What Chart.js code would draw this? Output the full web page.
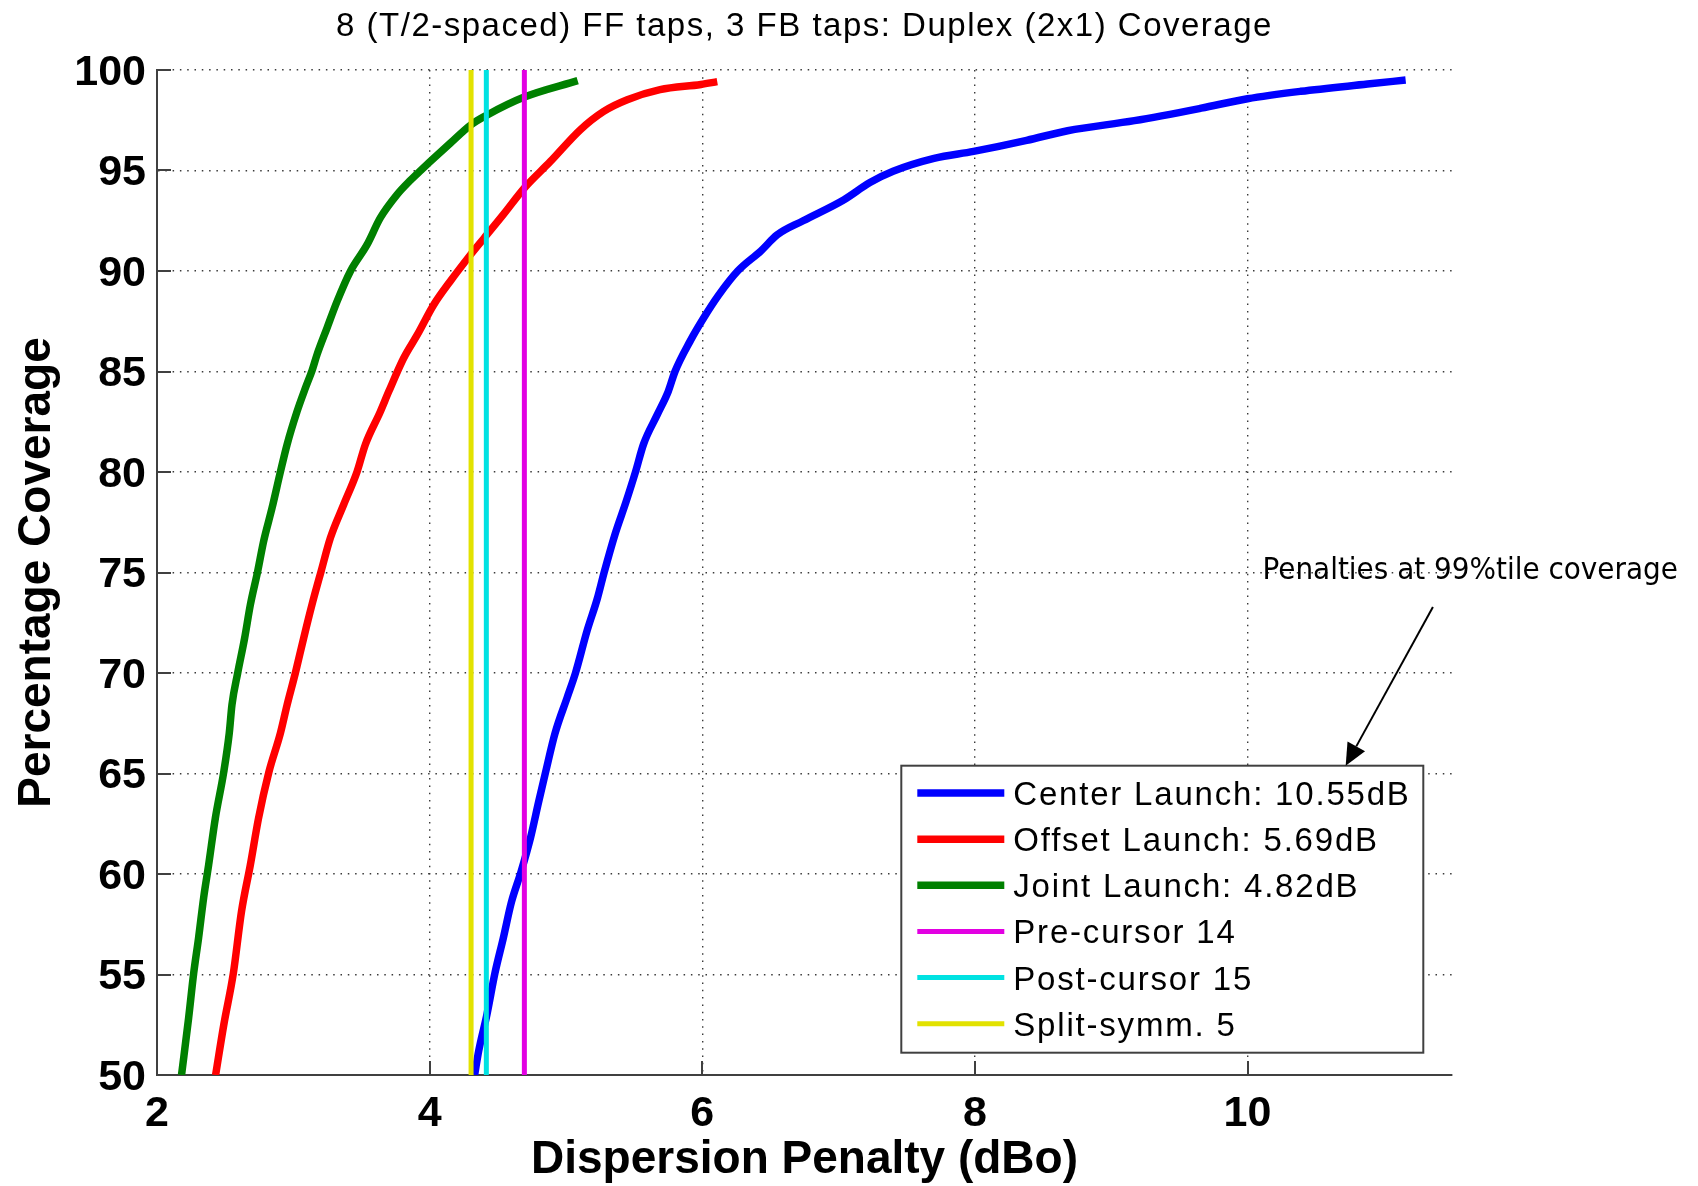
<!DOCTYPE html>
<html>
<head>
<meta charset="utf-8">
<title>Duplex (2x1) Coverage</title>
<script src="https://cdn.jsdelivr.net/npm/chart.js@4.4.1/dist/chart.umd.min.js"></script>
<style>
  html, body { margin: 0; padding: 0; background: #fff; }
  #chart { display: block; }
</style>
</head>
<body>
<canvas id="chart" width="1698" height="1186"></canvas>
<script>
// values (x = penalty in dBo, y = % coverage)
var centerX = [4.33, 4.36, 4.42, 4.48, 4.54, 4.6, 4.67, 4.74, 4.8, 4.85, 4.92, 5.01, 5.07, 5.155, 5.23, 5.28, 5.36, 5.44, 5.51, 5.57, 5.67, 5.75, 5.8, 5.91, 6.01, 6.12, 6.26, 6.43, 6.55, 6.74, 7.04, 7.23, 7.4, 7.7, 7.99, 8.38, 8.68, 9.17, 9.66, 10.0, 10.39, 10.88, 11.16];
var centerY = [50.0, 51.2, 53.0, 55.1, 56.8, 58.6, 60.1, 61.8, 63.6, 65.05, 67.0, 68.8, 70.0, 72.1, 73.7, 75.0, 76.9, 78.5, 80.0, 81.4, 82.85, 84.0, 85.0, 86.5, 87.66, 88.8, 90.0, 91.0, 91.8, 92.5, 93.55, 94.4, 94.96, 95.6, 95.95, 96.5, 96.98, 97.48, 98.1, 98.57, 98.94, 99.3, 99.5];

var offsetX = [2.43, 2.49, 2.56, 2.62, 2.685, 2.745, 2.82, 2.905, 2.954, 3.015, 3.076, 3.137, 3.203, 3.272, 3.369, 3.467, 3.528, 3.638, 3.7, 3.81, 3.91, 4.03, 4.15, 4.3, 4.4, 4.54, 4.695, 4.886, 5.106, 5.277, 5.45, 5.69, 5.99, 6.11];
var offsetY = [50.0, 52.5, 55.06, 58.14, 60.46, 62.78, 65.05, 67.0, 68.4, 70.0, 71.74, 73.4, 75.04, 76.72, 78.37, 80.0, 81.36, 83.0, 84.0, 85.67, 86.83, 88.32, 89.48, 90.81, 91.64, 92.8, 94.13, 95.45, 97.03, 97.94, 98.52, 99.02, 99.28, 99.42];

var jointX = [2.18, 2.232, 2.269, 2.305, 2.342, 2.379, 2.428, 2.489, 2.53, 2.55, 2.592, 2.643, 2.685, 2.738, 2.782, 2.844, 2.905, 2.954, 3.027, 3.09, 3.137, 3.174, 3.247, 3.321, 3.418, 3.541, 3.638, 3.761, 3.86, 3.94, 4.0, 4.15, 4.304, 4.416, 4.69, 5.086];
var jointY = [50.0, 52.84, 55.06, 56.82, 58.81, 60.46, 62.78, 65.05, 67.0, 68.42, 70.0, 71.74, 73.4, 75.04, 76.55, 78.21, 80.0, 81.36, 83.0, 84.2, 85.04, 85.84, 87.16, 88.49, 89.98, 91.31, 92.64, 93.8, 94.52, 95.04, 95.42, 96.35, 97.28, 97.74, 98.64, 99.47];

// penalties of the three tap splits (vertical markers)
var preCursorX = 4.695;
var postCursorX = 4.416;
var splitSymmX = 4.304;

var seriesLabels = ["Center Launch: 10.55dB", "Offset Launch: 5.69dB", "Joint Launch: 4.82dB",
                    "Pre-cursor 14", "Post-cursor 15", "Split-symm. 5"];
var seriesColors = ["#0000ff", "#ff0000", "#008000", "#e200e2", "#00e2e2", "#e2e200"];

var xRange = [2, 11.5];
var xStep = 2;
var yRange = [50, 100];
var yStep = 5;

var titleText = "8 (T/2-spaced) FF taps, 3 FB taps: Duplex (2x1) Coverage";
var xTitle = "Dispersion Penalty (dBo)";
var yTitle = "Percentage Coverage";
var noteText = "Penalties at 99%tile coverage";
var noteAt = {x: 10.11, y: 74.68};
var arrowFrom = {x: 11.36, y: 73.28};
var arrowTo = {x: 10.72, y: 65.39};

var SANS = '"Liberation Sans", Arial, Helvetica, sans-serif';

function toPoints(xs, ys)
{
	var pts = [];
	for (var i = 0; i < xs.length; i++)
	{
		pts.push({x: xs[i], y: ys[i]});
	}
	return pts;
}

function vLine(x)
{
	return [{x: x, y: yRange[0]}, {x: x, y: yRange[1]}];
}

function curve(i, data, width, order)
{
	return {
		label: seriesLabels[i],
		data: data,
		borderColor: seriesColors[i],
		backgroundColor: seriesColors[i],
		borderWidth: width,
		legendWidth: width,
		showLine: true,
		pointRadius: 0,
		fill: false,
		cubicInterpolationMode: "monotone",
		borderCapStyle: "butt",
		borderJoinStyle: "round",
		order: order
	};
}

// MATLAB style ticks pointing into the axes
var inwardTicks = {
	id: "inwardTicks",
	afterDatasetsDraw: function(chart)
	{
		var ctx = chart.ctx;
		var a = chart.chartArea;
		var xs = chart.scales.x, ys = chart.scales.y;
		ctx.save();
		ctx.strokeStyle = "#404040";
		ctx.lineWidth = 2;
		ctx.beginPath();
		xs.ticks.forEach(function(t)
		{
			var px = Math.round(xs.getPixelForValue(t.value));
			ctx.moveTo(px, a.bottom);
			ctx.lineTo(px, a.bottom - 14);
		});
		ys.ticks.forEach(function(t)
		{
			var py = Math.round(ys.getPixelForValue(t.value));
			ctx.moveTo(a.left, py);
			ctx.lineTo(a.left + 14, py);
		});
		ctx.stroke();
		ctx.restore();
	}
};

var plotTitle = {
	id: "plotTitle",
	afterDraw: function(chart)
	{
		var ctx = chart.ctx;
		var a = chart.chartArea;
		ctx.save();
		ctx.font = "33px " + SANS;
		ctx.fillStyle = "#000";
		ctx.textAlign = "center";
		ctx.textBaseline = "alphabetic";
		if ("letterSpacing" in ctx) ctx.letterSpacing = "1.5px";
		ctx.fillText(titleText, (a.left + a.right) / 2, 36);
		ctx.restore();
	}
};

// boxed legend in the lower right corner of the axes
var boxLegend = {
	id: "boxLegend",
	afterDraw: function(chart)
	{
		var ctx = chart.ctx;
		var a = chart.chartArea;
		var w = 522, h = 287;
		var left = a.right - 28.7 - w;
		var top = a.bottom - 22.3 - h;
		ctx.save();
		ctx.fillStyle = "#fff";
		ctx.fillRect(left, top, w, h);
		ctx.strokeStyle = "#404040";
		ctx.lineWidth = 2;
		ctx.strokeRect(left, top, w, h);
		ctx.font = "33px " + SANS;
		ctx.fillStyle = "#000";
		ctx.textAlign = "left";
		ctx.textBaseline = "alphabetic";
		if ("letterSpacing" in ctx) ctx.letterSpacing = "1.8px";
		chart.data.datasets.forEach(function(ds, i)
		{
			var cy = top + 27.3 + i * 46.14;
			ctx.strokeStyle = ds.borderColor;
			ctx.lineWidth = ds.legendWidth;
			ctx.lineCap = "butt";
			ctx.beginPath();
			ctx.moveTo(left + 16, cy);
			ctx.lineTo(left + 103, cy);
			ctx.stroke();
			ctx.fillText(ds.label, left + 112, cy + 12);
		});
		ctx.restore();
	}
};

var arrowNote = {
	id: "arrowNote",
	afterDraw: function(chart)
	{
		var ctx = chart.ctx;
		var xs = chart.scales.x, ys = chart.scales.y;
		var sx = xs.getPixelForValue(arrowFrom.x), sy = ys.getPixelForValue(arrowFrom.y);
		var tx = xs.getPixelForValue(arrowTo.x), ty = ys.getPixelForValue(arrowTo.y);
		var dx = tx - sx, dy = ty - sy;
		var len = Math.sqrt(dx * dx + dy * dy);
		dx /= len; dy /= len;
		var head = 22, half = 10;
		var bx = tx - dx * head, by = ty - dy * head;

		ctx.save();
		ctx.font = '31px "DejaVu Sans Condensed", "DejaVu Sans", sans-serif';
		ctx.fillStyle = "#000";
		ctx.textAlign = "left";
		ctx.textBaseline = "alphabetic";
		ctx.fillText(noteText, xs.getPixelForValue(noteAt.x), ys.getPixelForValue(noteAt.y));

		ctx.strokeStyle = "#000";
		ctx.lineWidth = 2;
		ctx.beginPath();
		ctx.moveTo(sx, sy);
		ctx.lineTo(bx, by);
		ctx.stroke();
		ctx.beginPath();
		ctx.moveTo(tx, ty);
		ctx.lineTo(bx - dy * half, by + dx * half);
		ctx.lineTo(bx + dy * half, by - dx * half);
		ctx.closePath();
		ctx.fill();
		ctx.restore();
	}
};

Chart.defaults.font.family = SANS;
Chart.defaults.color = "#000";

var tickFont = {family: SANS, size: 43, weight: "bold"};
var axisTitleFont = {family: SANS, size: 46, weight: "bold", lineHeight: 1.1};

new Chart(document.getElementById("chart"), {
	type: "scatter",
	data: {
		datasets: [
			curve(0, toPoints(centerX, centerY), 7.5, 1),
			curve(1, toPoints(offsetX, offsetY), 7.5, 1),
			curve(2, toPoints(jointX, jointY), 7.5, 1),
			curve(3, vLine(preCursorX), 5, 0),
			curve(4, vLine(postCursorX), 5, 0),
			curve(5, vLine(splitSymmX), 5, 0)
		]
	},
	options: {
		responsive: false,
		animation: false,
		devicePixelRatio: 1,
		layout: {padding: {top: 70, right: 246, bottom: 0, left: 0}},
		plugins: {
			legend: {display: false},
			title: {display: false},
			tooltip: {enabled: false}
		},
		scales: {
			x: {
				type: "linear",
				min: xRange[0],
				max: xRange[1],
				afterFit: function(scale) { scale.height = 111; },
				ticks: {stepSize: xStep, includeBounds: false, padding: 13, maxRotation: 0, font: tickFont, color: "#000"},
				grid: {color: "#3a3a3a", lineWidth: 1.4, drawTicks: false},
				border: {display: true, color: "#404040", width: 2, dash: [1.5, 5.8]},
				title: {display: true, text: xTitle, font: axisTitleFont, color: "#000", padding: {top: 0, bottom: 0}}
			},
			y: {
				type: "linear",
				min: yRange[0],
				max: yRange[1],
				afterFit: function(scale) { scale.width = 157; },
				ticks: {stepSize: yStep, includeBounds: false, padding: 11, labelOffset: 3, font: tickFont, color: "#000"},
				grid: {color: "#3a3a3a", lineWidth: 1.4, drawTicks: false},
				border: {display: true, color: "#404040", width: 2, dash: [1.5, 5.8]},
				title: {display: true, text: yTitle, font: axisTitleFont, color: "#000", padding: {top: 12, bottom: 0}}
			}
		}
	},
	plugins: [inwardTicks, plotTitle, boxLegend, arrowNote]
});
</script>
</body>
</html>
